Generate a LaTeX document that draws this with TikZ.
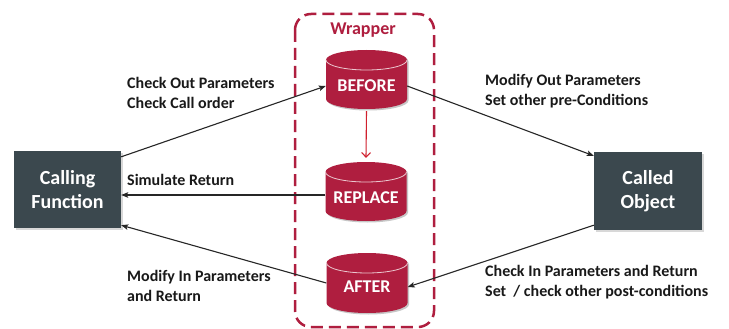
\documentclass[tikz,border=0pt]{standalone}
\usepackage{fontspec}
\setmainfont{Carlito}
\usetikzlibrary{arrows.meta,calc,shadows}
\definecolor{crim}{HTML}{AF1E3F}
\definecolor{slate}{HTML}{3B484E}
\definecolor{redarr}{HTML}{D0202E}
\tikzset{
 endbox/.style={fill=slate, text=white, font=\bfseries\fontsize{20}{24}\selectfont, align=center, inner sep=0pt, minimum width=107pt, minimum height=77pt, drop shadow={shadow xshift=1.5pt,shadow yshift=-1.5pt,fill=black!30}},
 cyltext/.style={text=white, font=\bfseries\fontsize{18}{20}\selectfont, inner sep=0pt, minimum width=81pt, minimum height=50pt},
 lbl/.style={anchor=west, align=left, inner sep=0pt, font=\bfseries\fontsize{16}{20}\selectfont, text=black!90},
 conn/.style={draw=black!85, line width=1.1pt, -{Stealth[length=7pt,width=5.5pt,inset=1.5pt]}},
 redconn/.style={draw=redarr, line width=1.1pt, -{Straight Barb[length=4.5pt,width=9pt]}},
}
\newcommand\drawcyl[3]{%
 \fill[black!22] (#1-39,#2+11.5) -- (#1-39,#3-8.5) arc[start angle=180,end angle=360,x radius=40.5pt,y radius=10pt] -- (#1+42,#2+11.5) arc[start angle=0,end angle=180,x radius=40.5pt,y radius=10pt] -- cycle;
 \fill[crim] (#1-40.5,#2+10) -- (#1-40.5,#3-10) arc[start angle=180,end angle=360,x radius=40.5pt,y radius=10pt] -- (#1+40.5,#2+10) arc[start angle=0,end angle=180,x radius=40.5pt,y radius=10pt] -- cycle;
 \draw[white!75!crim, line width=0.8pt] (#1-40.5,#2+10) arc[start angle=180,end angle=360,x radius=40.5pt,y radius=10pt];
}
\begin{document}
\begin{tikzpicture}[x=1pt,y=-1pt]
\useasboundingbox[fill=white] (0,0) rectangle (729,329);
% wrapper frame
\draw[crim, line width=2.5pt, dash pattern=on 12pt off 6pt, rounded corners=16pt] (295,14) rectangle (434,327);
\node[text=crim, font=\bfseries\fontsize{18}{20}\selectfont, inner sep=0pt] (wraplbl) at (363,30) {Wrapper};
% cylinders
\drawcyl{366.5}{50}{109}
\drawcyl{366}{162}{221}
\drawcyl{367}{253}{313}
\node[cyltext] (before) at (366.5,86) {BEFORE};
\node[cyltext, minimum height=80pt] (replace) at (366,198) {REPLACE};
\node[cyltext] (after) at (367,287) {AFTER};
% end boxes
\node[endbox] (call) at (67.5,189.5) {Calling\\Function};
\node[endbox, minimum width=108pt, minimum height=78pt] (called) at (648,191) {Called\\Object};
% connectors
\draw[conn] ($(call.north east)+(0,6)$) -- (before.west);
\draw[conn] (before.east) -- ($(called.north west)+(0,4)$);
\draw[conn] ($(replace.west)+(0,-3)$) -- ($(call.east)+(0,5.5)$);
\draw[conn] ($(called.south west)+(0,-5)$) -- (after.east);
\draw[conn] ($(after.west)+(0,-4)$) -- ($(call.south east)+(0,-3)$);
\draw[redconn] (before.south) -- (replace.north);
% labels
\node[lbl] (l1) at (127,93) {Check Out Parameters\\Check Call order};
\node[lbl] (l2) at (485,91) {Modify Out Parameters\\Set other pre-Conditions};
\node[lbl] (l3) at (127,180) {Simulate Return};
\node[lbl] (l4) at (127,285.5) {Modify In Parameters\\and Return};
\node[lbl] (l5) at (485,282) {Check In Parameters and Return\\Set\ \ / check other post-conditions};
\end{tikzpicture}
\end{document}
